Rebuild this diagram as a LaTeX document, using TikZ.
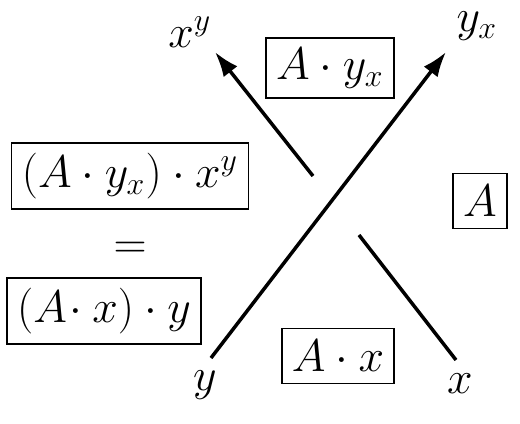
\documentclass[tikz,border=0pt]{standalone}
\usetikzlibrary{arrows.meta}
\begin{document}
\begin{tikzpicture}[x=0.377pt,y=-0.377pt,
  lab/.style={font=\LARGE, inner sep=0pt},
  bx/.style={draw, line width=0.57pt, font=\LARGE, inner sep=3.8pt, minimum height=20.7pt},
  strand/.style={line width=1.32pt},
  arr/.style={strand, -{Latex[length=9.4pt,width=6.6pt]}}]
\useasboundingbox (0,0) rectangle (520,424);
\node[lab] (xy) at (190,32) {$x^y$};
\node[lab] (yx) at (477,26) {$y_x$};
\node[lab] (y) at (205,385) {$y$};
\node[lab] (x) at (460,384) {$x$};
\node[bx] (Ayx) at (330,68) {$A\cdot y_x$};
\node[bx] (A) at (480,201) {$A$};
\node[bx] (Ax) at (338,356) {$A\cdot x$};
\node[bx] (L1) at (130,176) {$(A\cdot y_x)\cdot x^y$};
\node[lab] (eq) at (130,250) {$=$};
\node[bx] (L2) at (104,311) {$(A\!\cdot x)\cdot y$};
\coordinate (ys) at (211,358);
\coordinate (yt) at (446,52);
\coordinate (xs) at (313,176);
\coordinate (xt) at (215,52);
\coordinate (gs) at (359,235);
\coordinate (xe) at (456,360);
\draw[arr] (ys) -- (yt);
\draw[arr] (xs) -- (xt);
\draw[strand] (gs) -- (xe);
\end{tikzpicture}
\end{document}
